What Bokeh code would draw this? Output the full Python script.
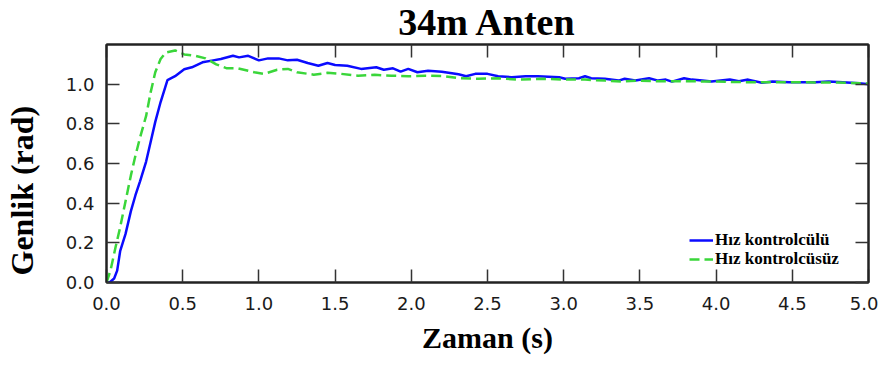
import numpy as np
from bokeh.plotting import figure
from bokeh.models import (Range1d, LinearAxis, FixedTicker, NumeralTickFormatter,
                          Title, Legend, LegendItem)
from bokeh.embed import file_html
from bokeh.resources import INLINE

# ---------------- data ----------------
title_text = "34m Anten"
x_label = "Zaman (s)"
y_label = "Genlik (rad)"
series_names = ["Hız kontrolcülü", "Hız kontrolcüsüz"]
x_ticks = [0.0, 0.5, 1.0, 1.5, 2.0, 2.5, 3.0, 3.5, 4.0, 4.5, 5.0]
y_ticks = [0.0, 0.2, 0.4, 0.6, 0.8, 1.0]

# with speed controller (solid blue)
t_with = [0.0, 0.02, 0.05, 0.07, 0.09, 0.125, 0.16, 0.19, 0.22, 0.26, 0.29, 0.32,
          0.355, 0.40, 0.45, 0.51, 0.56, 0.63, 0.70, 0.75, 0.83, 0.87, 0.93, 1.00,
          1.06, 1.13, 1.19, 1.25, 1.32, 1.39, 1.45, 1.50, 1.58, 1.67, 1.77, 1.82,
          1.88, 1.93, 1.98, 2.04, 2.11, 2.20, 2.31, 2.36, 2.42, 2.50, 2.57, 2.66,
          2.75, 2.83, 2.97, 3.01, 3.10, 3.14, 3.18, 3.27, 3.36, 3.40, 3.47, 3.56,
          3.62, 3.67, 3.71, 3.79, 3.84, 3.91, 3.97, 4.09, 4.15, 4.21, 4.30, 4.37,
          4.48, 4.57, 4.65, 4.74, 4.83, 4.94, 5.00]
v_with = [0.0, 0.0, 0.02, 0.06, 0.16, 0.245, 0.36, 0.44, 0.51, 0.61, 0.71, 0.81,
          0.91, 1.02, 1.04, 1.075, 1.085, 1.11, 1.12, 1.127, 1.143, 1.135, 1.143, 1.12,
          1.13, 1.13, 1.12, 1.123, 1.107, 1.093, 1.107, 1.097, 1.093, 1.077, 1.085, 1.073,
          1.08, 1.063, 1.077, 1.06, 1.068, 1.063, 1.05, 1.04, 1.052, 1.052, 1.04, 1.035,
          1.04, 1.04, 1.035, 1.027, 1.03, 1.04, 1.03, 1.027, 1.018, 1.027, 1.018, 1.03,
          1.018, 1.023, 1.013, 1.03, 1.023, 1.018, 1.013, 1.023, 1.015, 1.023, 1.007, 1.013,
          1.01, 1.01, 1.01, 1.013, 1.01, 1.005, 1.0]

# without speed controller (dashed green)
t_without = [0.0, 0.026, 0.06, 0.09, 0.125, 0.16, 0.19, 0.22, 0.26, 0.29, 0.32, 0.355,
             0.39, 0.45, 0.51, 0.585, 0.65, 0.72, 0.79, 0.86, 0.97, 1.035, 1.12, 1.19,
             1.25, 1.36, 1.45, 1.54, 1.65, 1.76, 1.87, 1.98, 2.09, 2.22, 2.31, 2.44,
             2.57, 2.70, 2.86, 3.01, 3.14, 3.27, 3.38, 3.49, 3.60, 3.80, 4.00, 4.20,
             4.50, 4.80, 5.00]
v_without = [0.0, 0.06, 0.18, 0.28, 0.41, 0.54, 0.64, 0.73, 0.84, 0.96, 1.06, 1.127,
             1.16, 1.17, 1.15, 1.143, 1.13, 1.10, 1.08, 1.08, 1.06, 1.052, 1.073, 1.077,
             1.06, 1.048, 1.057, 1.052, 1.043, 1.047, 1.043, 1.04, 1.043, 1.04, 1.03, 1.027,
             1.03, 1.023, 1.027, 1.023, 1.023, 1.018, 1.013, 1.018, 1.015, 1.015, 1.013, 1.01,
             1.01, 1.008, 1.003]

# ---------------- figure ----------------
serif = "Liberation Serif"
sans = "DejaVu Sans"
p = figure(width=878, height=364, x_range=Range1d(0, 5), y_range=Range1d(0, 1.2),
           output_backend="svg", toolbar_location=None,
           min_border_left=106, min_border_right=10, min_border_top=43, min_border_bottom=82)
p.xgrid.visible = False
p.ygrid.visible = False
p.outline_line_color = "#222222"
p.outline_line_width = 2
p.background_fill_color = "white"
p.border_fill_color = "white"

p.title.text = title_text
p.title.align = "center"
p.title.vertical_align = "top"
p.title.standoff = 0
p.title.text_font = serif
p.title.text_font_style = "bold"
p.title.text_font_size = "38px"
p.title.text_color = "black"

xb = p.below[0]
yl = p.left[0]
above = LinearAxis(ticker=FixedTicker(ticks=[], minor_ticks=x_ticks))
right = LinearAxis(ticker=FixedTicker(ticks=[], minor_ticks=y_ticks))
p.add_layout(above, "above")
p.add_layout(right, "right")

axis_col = "#222222"
tick_col = "#333333"
for ax, ticks in [(xb, x_ticks), (yl, y_ticks)]:
    ax.ticker = FixedTicker(ticks=ticks)
    ax.formatter = NumeralTickFormatter(format="0.0")
    ax.major_tick_in = 13
    ax.major_tick_out = 0
    ax.major_tick_line_width = 1.5
    ax.major_tick_line_color = tick_col
    ax.minor_tick_line_color = None
    ax.major_label_text_font = sans
    ax.major_label_text_font_size = "18px"
    ax.major_label_text_color = "#1a1a1a"
for ax in (above, right):
    ax.major_tick_in = 0
    ax.major_tick_out = 0
    ax.minor_tick_in = 13
    ax.minor_tick_out = 0
    ax.minor_tick_line_width = 1.5
    ax.minor_tick_line_color = tick_col
    ax.major_label_standoff = 0
for ax in (xb, yl, above, right):
    ax.axis_line_width = 2
    ax.axis_line_color = axis_col

xb.major_label_standoff = 14
yl.major_label_standoff = 12

xb.axis_label = x_label
xb.axis_label_standoff = 8
xb.axis_label_text_font = serif
xb.axis_label_text_font_style = "bold"
xb.axis_label_text_font_size = "30px"
xb.axis_label_text_color = "black"

# blank spacer axis (invisible minor ticks only) between y tick labels and y title
spacer = LinearAxis(ticker=FixedTicker(ticks=[], minor_ticks=y_ticks), axis_line_color=None,
                    major_tick_in=0, major_tick_out=0, minor_tick_in=0, minor_tick_out=23,
                    minor_tick_line_color=None, major_tick_line_color=None,
                    major_label_standoff=0)
p.add_layout(spacer, "left")
p.add_layout(Title(text=y_label, align="left", offset=7, vertical_align="bottom",
                   standoff=0, text_font=serif, text_font_style="bold",
                   text_font_size="32px", text_color="black"), "left")

r_with = p.line(t_with, v_with, line_color="#0b0bff", line_width=2.5)
r_without = p.line(t_without, v_without, line_color="#3ad63a", line_width=2.5, line_dash="10 5")

legend_style = dict(padding=0, margin=0, spacing=0,
                    glyph_width=24, glyph_height=14, label_height=14, label_standoff=2,
                    border_line_color=None, background_fill_alpha=0,
                    label_text_font=serif, label_text_font_style="bold",
                    label_text_font_size="17px", label_text_color="black")
legend1 = Legend(items=[LegendItem(label=series_names[0], renderers=[r_with])],
                 location=(583, 32), **legend_style)
legend2 = Legend(items=[LegendItem(label=series_names[1], renderers=[r_without])],
                 location=(583, 13), **legend_style)
p.add_layout(legend1)
p.add_layout(legend2)

open("out.html", "w").write(file_html(p, INLINE))
